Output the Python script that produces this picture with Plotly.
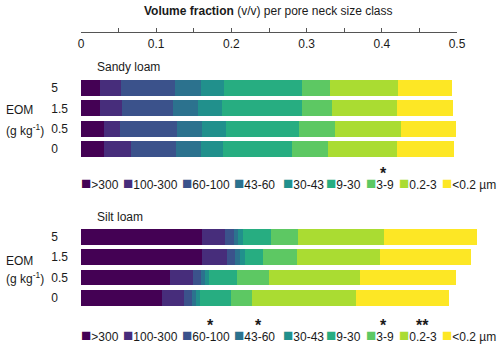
import plotly.graph_objects as go

# pore neck size classes (µm) and EOM levels (g kg-1)
classes = [">300", "100-300", "60-100", "43-60", "30-43", "9-30", "3-9", "0.2-3", "<0.2 µm"]
eom = ["0", "0.5", "1.5", "5"]
colors = ["#440154", "#472D7B", "#3B528B", "#2C728E", "#21908C",
          "#27AD81", "#5DC863", "#AADC32", "#FDE725"]

# volume fractions per class, one list per EOM level
sandy_0 = [0.031, 0.036, 0.059, 0.033, 0.030, 0.092, 0.047, 0.092, 0.076]
sandy_05 = [0.031, 0.021, 0.075, 0.034, 0.032, 0.097, 0.048, 0.087, 0.073]
sandy_15 = [0.025, 0.030, 0.067, 0.033, 0.033, 0.106, 0.040, 0.086, 0.075]
sandy_5 = [0.025, 0.028, 0.072, 0.035, 0.030, 0.104, 0.037, 0.090, 0.073]

silt_0 = [0.108, 0.029, 0.010, 0.006, 0.005, 0.042, 0.028, 0.138, 0.123]
silt_05 = [0.119, 0.030, 0.010, 0.006, 0.005, 0.038, 0.042, 0.121, 0.127]
silt_15 = [0.161, 0.033, 0.011, 0.006, 0.007, 0.024, 0.045, 0.110, 0.122]
silt_5 = [0.161, 0.030, 0.013, 0.005, 0.007, 0.036, 0.037, 0.114, 0.123]

# significance marks above legend entries
sandy_sig = ["", "", "", "", "", "", "*", "", ""]
silt_sig = ["", "", "*", "*", "", "", "*", "**", ""]

W, H = 500, 347
FONT = "Liberation Sans, Arial, sans-serif"
TXT = "#1a1a1a"


def px(x):
    return x / W


def py(y):
    return 1 - y / H


fig = go.Figure()

panels = [
    ("x", "y", [sandy_0, sandy_05, sandy_15, sandy_5]),
    ("x2", "y2", [silt_0, silt_05, silt_15, silt_5]),
]
for xa, ya, rows in panels:
    for i, cls in enumerate(classes):
        fig.add_trace(go.Bar(
            x=[r[i] for r in rows], y=eom, orientation="h",
            marker=dict(color=colors[i], line=dict(width=0)),
            xaxis=xa, yaxis=ya, showlegend=False, name=cls,
        ))

# dummy trace so the top scale axis gets drawn
fig.add_trace(go.Scatter(x=[], y=[], xaxis="x3", yaxis="y3", showlegend=False))

# left-align the EOM tick labels by padding short ones with invisible text
ytick = [e if len(e) > 1 else e + "<span style='color:#ffffff'>.0</span>" for e in eom]
xmax = (482 - 81) / 752
bar_x = dict(domain=[px(81), px(482)], range=[0, xmax], visible=False, fixedrange=True)
bar_y = dict(type="category", categoryarray=eom, tickvals=eom, ticktext=ytick,
             showline=False, showgrid=False, ticks="", ticklabelstandoff=12,
             tickfont=dict(size=12, color=TXT), automargin=False, fixedrange=True)

fig.update_layout(
    width=W, height=H, autosize=False,
    margin=dict(l=0, r=0, t=0, b=0, autoexpand=False),
    paper_bgcolor="white", plot_bgcolor="white",
    font=dict(family=FONT, size=12, color=TXT),
    barmode="stack", bargap=0.213,
    xaxis=bar_x,
    xaxis2=dict(bar_x, anchor="y2"),
    yaxis=dict(bar_y, domain=[py(159.2), py(77.8)], anchor="x"),
    yaxis2=dict(bar_y, domain=[py(307.9), py(226.8)], anchor="x2"),
    xaxis3=dict(domain=[px(81), px(457)], range=[0, 0.5], anchor="y3", side="bottom",
                tick0=0, dtick=0.1, ticks="inside", ticklen=4, tickwidth=1, tickcolor="#555",
                minor=dict(dtick=0.05, ticks="inside", ticklen=4, tickwidth=1, tickcolor="#555"),
                showline=True, linecolor="#555", linewidth=1, automargin=False,
                showgrid=False, zeroline=False, tickfont=dict(size=12, color=TXT)),
    yaxis3=dict(domain=[py(32.3), py(22)], visible=False, range=[0, 1]),
)

ann = []
ann.append(dict(x=px(268.5), y=py(10.7), xref="paper", yref="paper",
                text="<b>Volume fraction</b> (v/v) per pore neck size class",
                showarrow=False, xanchor="center", yanchor="middle", font=dict(size=12)))
for ya, title, ty, dy in [("y", "Sandy loam", 67.3, -2), ("y2", "Silt loam", 216.7, -4)]:
    ann.append(dict(x=px(95), y=py(ty), xref="paper", yref="paper", text=title,
                    showarrow=False, xanchor="left", yanchor="middle", font=dict(size=12)))
    ann.append(dict(x=px(4), y=eom.index("1.5"), xref="paper", yref=ya, text="EOM",
                    showarrow=False, xanchor="left", yanchor="middle", yshift=dy,
                    font=dict(size=12)))
    ann.append(dict(x=px(4), y=eom.index("0.5"), xref="paper", yref=ya,
                    text="(g kg<sup>-1</sup>)", showarrow=False, xanchor="left",
                    yanchor="middle", yshift=-1, font=dict(size=12)))

# legends (one under each panel)
leg_x = [81, 123.3, 182, 233.7, 282.7, 325.7, 365.7, 399, 442.3]
for ly, sig in [(183.5, sandy_sig), (335, silt_sig)]:
    for i, cls in enumerate(classes):
        ann.append(dict(x=px(leg_x[i] - 2), y=py(ly), xref="paper", yref="paper",
                        text=f"<span style='color:{colors[i]};font-size:17px'>■</span>{cls}",
                        showarrow=False, xanchor="left", yanchor="middle",
                        font=dict(size=12)))
        if sig[i]:
            w = 6.7 * len(cls.replace(".", "").replace("-", "")) + 3.3 * (cls.count(".") + cls.count("-") * 1.2)
            ann.append(dict(x=px(leg_x[i] + 9.5 + w / 2), y=py(ly - 10), xref="paper", yref="paper",
                            text=f"<b>{sig[i]}</b>", showarrow=False, xanchor="center",
                            yanchor="middle", font=dict(size=16)))
fig.update_layout(annotations=ann)

fig.write_html("out.html", config={"responsive": False, "displayModeBar": False},
               post_script="document.body.style.margin='0';document.body.style.overflow='hidden';")
